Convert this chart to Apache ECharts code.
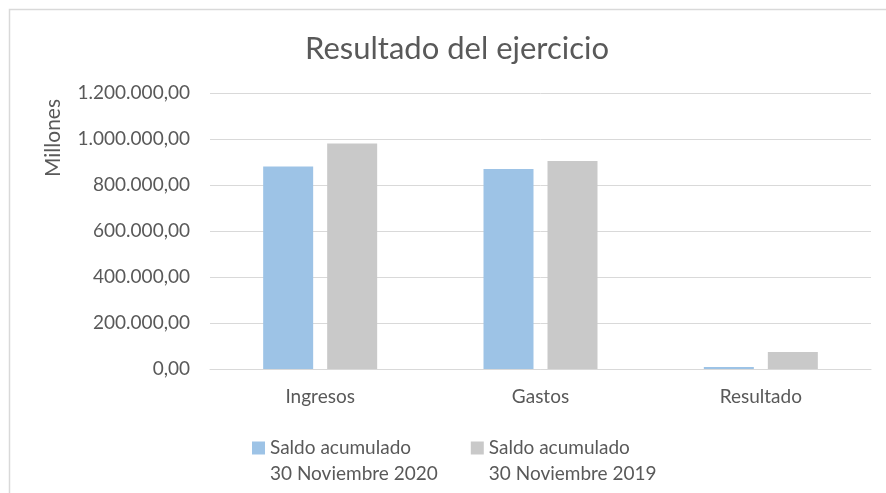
<!DOCTYPE html>
<html>
<head>
<meta charset="utf-8">
<script src="https://cdn.jsdelivr.net/npm/echarts@6/dist/echarts.min.js"></script>
<style>
html, body { margin: 0; padding: 0; background: #fff; }
#main { width: 886px; height: 493px; }
</style>
</head>
<body>
<div id="main"></div>
<script>
var categorias = ['Ingresos', 'Gastos', 'Resultado'];
var saldo2020 = [880000, 870000, 9000];
var saldo2019 = [980000, 904000, 74000];
var nombres = ['Saldo acumulado\n30 Noviembre 2020', 'Saldo acumulado\n30 Noviembre 2019'];
var colores = ['#9DC3E6', '#C9C9C9'];
var fuente = 'Lato';
var gris = '#595959';

// 1200000 -> "1.200.000,00"
function numES(v) {
	var s = String(Math.round(v));
	s = s.replace(/\B(?=(\d{3})+(?!\d))/g, '.');
	return s + ',00';
}

var chart = echarts.init(document.getElementById('main'));

var option = {
	animation: false,
	title: {
		text: 'Resultado del ejercicio',
		left: 300,
		top: 28,
		textStyle: { fontFamily: fuente, fontSize: 31, fontWeight: 'normal', color: gris }
	},
	legend: {
		left: 247,
		top: 404,
		itemWidth: 13,
		itemHeight: 13,
		itemGap: 33,
		icon: 'rect',
		data: nombres,
		formatter: function (name) {
			// linea vacia arriba para que el cuadro quede junto a la primera linea
			return '\n' + name;
		},
		textStyle: { fontFamily: fuente, fontSize: 19, color: gris, lineHeight: 26 }
	},
	grid: { left: 210, right: 15, top: 93, bottom: 124, containLabel: false },
	xAxis: {
		type: 'category',
		data: categorias,
		axisLine: { lineStyle: { color: '#d9d9d9', width: 1 } },
		axisTick: { show: false },
		axisLabel: { fontFamily: fuente, fontSize: 19, color: gris, margin: 18 }
	},
	yAxis: {
		type: 'value',
		min: 0,
		max: 1200000,
		interval: 200000,
		axisLine: { show: false },
		axisTick: { show: false },
		splitLine: { lineStyle: { color: '#d9d9d9', width: 1 } },
		axisLabel: { fontFamily: fuente, fontSize: 19, color: gris, margin: 20, formatter: numES }
	},
	graphic: [
		{
			type: 'rect',
			shape: { x: 9.5, y: 9.5, width: 1000, height: 1000 },
			style: { fill: 'none', stroke: '#d9d9d9', lineWidth: 1.5 },
			silent: true
		},
		{
			type: 'text',
			x: 53,
			y: 138,
			rotation: Math.PI / 2,
			style: {
				text: 'Millones',
				fontFamily: fuente,
				fontSize: 21,
				fill: gris,
				align: 'center',
				verticalAlign: 'middle'
			}
		}
	],
	series: [
		{
			name: nombres[0],
			type: 'bar',
			data: saldo2020,
			barWidth: 50,
			barGap: '28%',
			itemStyle: { color: colores[0] }
		},
		{
			name: nombres[1],
			type: 'bar',
			data: saldo2019,
			barWidth: 50,
			itemStyle: { color: colores[1] }
		}
	]
};

chart.setOption(option);
</script>
</body>
</html>
